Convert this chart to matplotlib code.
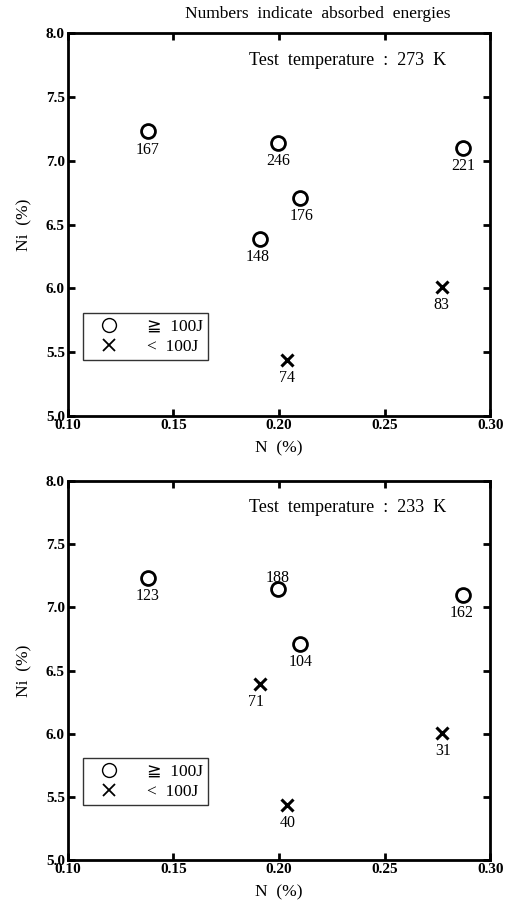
import matplotlib
matplotlib.use("Agg")
import matplotlib.pyplot as plt
from matplotlib.lines import Line2D

plt.rcParams["font.family"] = ["Liberation Serif", "DejaVu Serif", "DejaVu Sans"]

# Specimen compositions (N %, Ni %) shared by both test temperatures
n_pct = [0.138, 0.1995, 0.287, 0.210, 0.191, 0.277, 0.204]
ni_pct = [7.23, 7.14, 7.10, 6.71, 6.39, 6.01, 5.44]

# Absorbed energies (J) at each temperature
energy_273 = [167, 246, 221, 176, 148, 83, 74]
energy_233 = [123, 188, 162, 104, 71, 31, 40]

# Label offsets (points) for the energy numbers
offsets_273 = [(0, -13), (0, -13), (0, -13), (1, -13), (-2, -13), (0, -13), (0, -13)]
offsets_233 = [(0, -13), (0, 8), (-1, -13), (0, -13), (-3, -13), (1, -13), (0, -13)]

x_ticks = [0.10, 0.15, 0.20, 0.25, 0.30]
y_ticks = [5.0, 5.5, 6.0, 6.5, 7.0, 7.5, 8.0]
threshold = 100

fig = plt.figure(figsize=(5.05, 9.0), dpi=100)
ax_top = fig.add_axes([0.134, 0.538, 0.837, 0.425])
ax_bot = fig.add_axes([0.134, 0.044, 0.837, 0.422])


def draw_panel(ax, energies, offsets, temp):
    for x, y, e, (dx, dy) in zip(n_pct, ni_pct, energies, offsets):
        if e >= threshold:
            ax.plot(x, y, marker="o", ms=10, mfc="white", mec="black", mew=2.0, ls="none")
        else:
            ax.plot(x, y, marker="x", ms=9, mec="black", mew=2.2, ls="none")
        ax.annotate(str(e), (x, y), xytext=(dx, dy), textcoords="offset points",
                    ha="center", va="center", fontsize=11.5)

    ax.set_xlim(0.10, 0.30)
    ax.set_ylim(5.0, 8.0)
    ax.set_xticks(x_ticks)
    ax.set_yticks(y_ticks)
    ax.set_xticklabels([f"{t:.2f}" for t in x_ticks], fontweight="bold", fontsize=11)
    ax.set_yticklabels([f"{t:.1f}" for t in y_ticks], fontweight="bold", fontsize=11)
    ax.tick_params(direction="in", length=5, width=2, top=True, right=True, pad=2)
    for s in ax.spines.values():
        s.set_linewidth(2)

    ax.set_xlabel("N  (%)", fontsize=12.5, labelpad=6)
    ax.set_ylabel("Ni  (%)", fontsize=12.5, labelpad=10)
    ax.text(0.663, 0.93, f"Test  temperature  :  {temp}  K", transform=ax.transAxes,
            ha="center", va="center", fontsize=13)

    handles = [
        Line2D([], [], marker="o", ms=10, mfc="white", mec="black", mew=1.0, ls="none"),
        Line2D([], [], marker="x", ms=8, mec="black", mew=1.3, ls="none"),
    ]
    leg = ax.legend(handles, ["\u2267  100J", "<  100J"], loc="lower left",
                    bbox_to_anchor=(0.036, 0.145), fontsize=12.5, frameon=True,
                    fancybox=False, edgecolor="black", borderpad=0.3,
                    handletextpad=1.0, handlelength=2.4, labelspacing=0.25,
                    borderaxespad=0)
    leg.get_frame().set_linewidth(1.0)


draw_panel(ax_top, energy_273, offsets_273, 273)
draw_panel(ax_bot, energy_233, offsets_233, 233)

fig.text(0.630, 0.984, "Numbers  indicate  absorbed  energies", ha="center", va="center",
         fontsize=12.5)

fig.savefig("out.png", dpi=100)
